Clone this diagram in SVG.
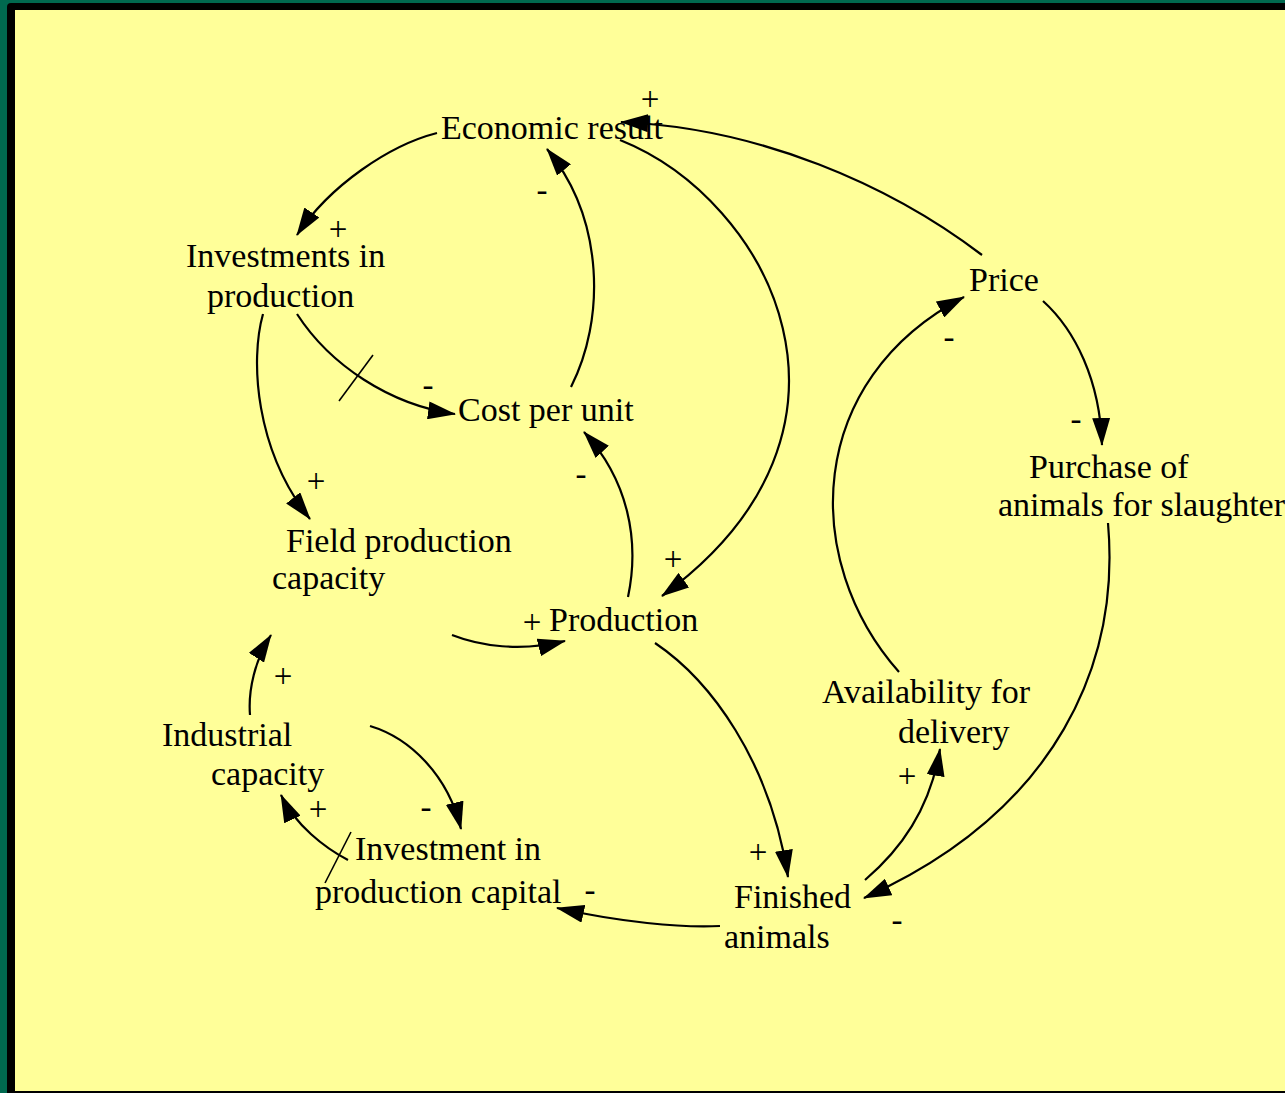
<svg xmlns="http://www.w3.org/2000/svg" width="1285" height="1093" viewBox="0 0 1285 1093">
<style>
.t{font-family:"Liberation Serif","Times New Roman",serif;font-size:34px;fill:#000}
.s{font-family:"Liberation Serif","Times New Roman",serif;font-size:33px;fill:#000;text-anchor:middle}
.c{fill:none;stroke:#000;stroke-width:2.2;marker-end:url(#ah)}
.d{fill:none;stroke:#000;stroke-width:1.6}
</style>
<defs>
<marker id="ah" viewBox="0 0 28 18" markerWidth="28" markerHeight="18" refX="27" refY="9" orient="auto" markerUnits="userSpaceOnUse">
<path d="M0,0 L28,9 L0,18 z" fill="#000"/>
</marker>
</defs>
<rect x="0" y="0" width="1285" height="1093" fill="#00694F"/>
<rect x="7" y="3" width="1290" height="1100" rx="4" fill="#000"/>
<rect x="15" y="10" width="1280" height="1081" fill="#FFFF99"/>

<g id="connectors">
<path class="c" d="M437,133 C390,145 330,185 297,235"/>
<path class="c" d="M982,255 C890,185 760,128 621,122"/>
<path class="c" d="M620,140 C770,200 890,430 662,596"/>
<path class="c" d="M571,387 C605,320 605,220 547,149"/>
<path class="c" d="M297,314 C330,365 390,405 455,414"/>
<path class="d" d="M339,401 L373,355"/>
<path class="c" d="M263,314 C250,360 255,450 310,519"/>
<path class="c" d="M628,597 C640,540 628,480 584,432"/>
<path class="c" d="M452,635 C480,646 520,652 565,641"/>
<path class="c" d="M250,715 C248,690 255,660 271,635"/>
<path class="c" d="M370,726 C410,738 448,775 461,829"/>
<path class="c" d="M348,860 C325,848 295,825 281,795"/>
<path class="d" d="M325,883 L351,832"/>
<path class="c" d="M720,926 C680,928 620,922 557,908"/>
<path class="c" d="M655,643 C710,680 770,760 788,877"/>
<path class="c" d="M865,880 C900,850 930,810 940,749"/>
<path class="c" d="M1108,523 C1120,660 1060,810 864,898"/>
<path class="c" d="M899,672 C800,560 805,380 964,297"/>
<path class="c" d="M1043,301 C1075,330 1100,380 1102,445"/>
</g>

<g id="signs">
<text class="s" x="650" y="110">+</text>
<text class="s" x="338" y="240">+</text>
<text class="s" x="542" y="201">-</text>
<text class="s" x="428" y="396">-</text>
<text class="s" x="316" y="492">+</text>
<text class="s" x="581" y="485">-</text>
<text class="s" x="673" y="570">+</text>
<text class="s" x="532" y="633">+</text>
<text class="s" x="283" y="687">+</text>
<text class="s" x="318" y="820">+</text>
<text class="s" x="426" y="818">-</text>
<text class="s" x="590" y="901">-</text>
<text class="s" x="758" y="863">+</text>
<text class="s" x="907" y="787">+</text>
<text class="s" x="897" y="931">-</text>
<text class="s" x="949" y="348">-</text>
<text class="s" x="1076" y="430">-</text>
</g>

<g id="economic-result"><text class="t" x="441" y="139">Economic result</text></g>
<g id="investments-in-production"><text class="t" x="186" y="267">Investments in</text><text class="t" x="207" y="307">production</text></g>
<g id="cost-per-unit"><text class="t" x="458" y="421">Cost per unit</text></g>
<g id="field-production-capacity"><text class="t" x="286" y="552">Field production</text><text class="t" x="272" y="589">capacity</text></g>
<g id="production"><text class="t" x="549" y="631">Production</text></g>
<g id="industrial-capacity"><text class="t" x="162" y="746">Industrial</text><text class="t" x="211" y="785">capacity</text></g>
<g id="investment-in-production-capital"><text class="t" x="355" y="860">Investment in</text><text class="t" x="315" y="903">production capital</text></g>
<g id="finished-animals"><text class="t" x="734" y="908">Finished</text><text class="t" x="724" y="948">animals</text></g>
<g id="availability-for-delivery"><text class="t" x="822" y="703">Availability for</text><text class="t" x="898" y="743">delivery</text></g>
<g id="price"><text class="t" x="969" y="291">Price</text></g>
<g id="purchase-of-animals"><text class="t" x="1029" y="478">Purchase of</text><text class="t" x="998" y="516">animals for slaughter</text></g>
</svg>
